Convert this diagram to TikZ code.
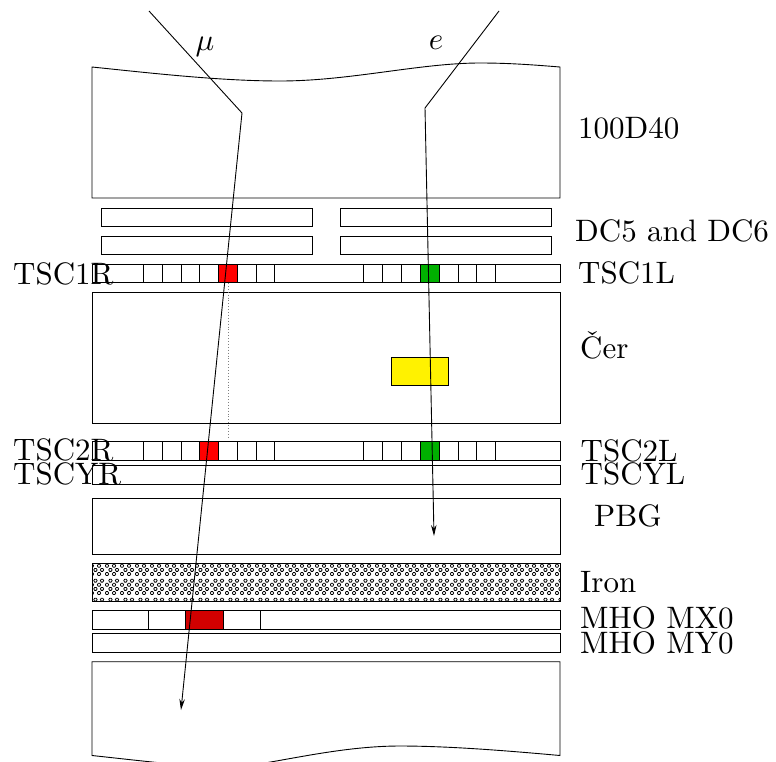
\documentclass[tikz,border=0pt]{standalone}
\usepackage{fontspec}
\setmainfont{lmroman10-regular.otf}
\usetikzlibrary{arrows.meta,patterns}
\DeclareFontShape{OML}{cmm}{m}{it}{<->cmmi10}{\skewchar\font=127}
\pgfdeclarepatternformonly{ironhex}{\pgfpoint{0pt}{0pt}}{\pgfpoint{15pt}{18.5pt}}{\pgfpoint{15pt}{18.5pt}}{%
  \pgfsetlinewidth{0.8pt}%
  \foreach \ox/\oy in {0.3/0.5,7.8/0.5,4/4.7,11/4.7,0.3/8.9,7.8/8.9,4/13.1,11/13.1}{%
  \pgfpathmoveto{\pgfpoint{\ox pt+1pt}{\oy pt}}\pgfpathlineto{\pgfpoint{\ox pt+2.6pt}{\oy pt}}\pgfpathlineto{\pgfpoint{\ox pt+3.6pt}{\oy pt+1.5pt}}\pgfpathlineto{\pgfpoint{\ox pt+2.6pt}{\oy pt+3pt}}\pgfpathlineto{\pgfpoint{\ox pt+1pt}{\oy pt+3pt}}\pgfpathlineto{\pgfpoint{\ox pt}{\oy pt+1.5pt}}\pgfpathclose}%
  \pgfusepath{stroke}}
\definecolor{tscred}{rgb}{1,0,0}
\definecolor{tscgreen}{rgb}{0,0.69,0}
\definecolor{mhored}{rgb}{0.82,0,0}
\tikzset{
  x=1pt,y=-1pt,
  box/.style={draw=black,line width=0.9pt,line join=miter},
  track/.style={draw=black,line width=0.9pt,line join=miter},
  lab/.style={anchor=base west,inner sep=0pt,font=\fontsize{31}{31}\selectfont},
  greek/.style={anchor=base,inner sep=0pt,font=\fontsize{31}{31}\selectfont},
  tip/.style={-{Stealth[length=11pt,width=5.5pt]}}
}
\begin{document}
\begin{tikzpicture}
\useasboundingbox (0,0) rectangle (776,761);
\begin{scope}
\clip (0,0) rectangle (776,761);
% magnet
\draw[box] (92,198) -- (92,67) .. controls (150,73) and (220,81) .. (280,81) .. controls (350,81) and (420,63) .. (480,63) .. controls (510,63) and (535,65) .. (560,67) -- (560,198) -- cycle;
% drift chambers
\draw[box] (101,208) rectangle (312,226);
\draw[box] (340,208) rectangle (551,226);
\draw[box] (101,236) rectangle (312,254);
\draw[box] (340,236) rectangle (551,254);
% TSC1
\draw[box] (92,264) rectangle (560,282.5);
\foreach \a/\b in {143.3/162.3,162.3/181,181/199.7,199.7/218.7,237.3/256,256/274.7,363.7/382.3,382.3/401.3,401.3/420,439/458,458/476.7,476.7/495}
  \draw[box] (\a,264) rectangle (\b,282.5);
\draw[box,fill=tscred] (218.7,264) rectangle (237.3,282.5);
\draw[box,fill=tscgreen] (420,264) rectangle (439,282.5);
% Cerenkov
\draw[box] (92,292) rectangle (560,423);
\draw[box,fill=yellow] (391.7,357.3) rectangle (448,385.7);
\draw[gray,line width=0.9pt,dotted] (228,283) -- (228,439);
% TSC2
\draw[box] (92,441.7) rectangle (560,460.3);
\foreach \a/\b in {143.3/162.3,162.3/181,181/199.7,218.7/237.3,237.3/256,256/274.7,363.7/382.3,382.3/401.3,401.3/420,439/458,458/476.7,476.7/495}
  \draw[box] (\a,441.7) rectangle (\b,460.3);
\draw[box,fill=tscred] (199.7,441.7) rectangle (218.7,460.3);
\draw[box,fill=tscgreen] (420,441.7) rectangle (439,460.3);
% TSCY
\draw[box] (92,465) rectangle (560,484);
% PBG
\draw[box] (92,498) rectangle (560,554);
% Iron
\draw[box,pattern=ironhex] (92,563.5) rectangle (560,601);
% MHO
\draw[box] (92,610.3) rectangle (560,629);
\draw[box] (148.3,610.3) rectangle (185.5,629);
\draw[box] (223.3,610.3) rectangle (260.7,629);
\draw[box,fill=mhored] (185.5,610.3) rectangle (223.3,629);
\draw[box] (92,633.5) rectangle (560,652.5);
% lower block
\draw[box] (92,661.7) -- (92,755.5) .. controls (125,759) and (175,765) .. (220,768) .. controls (260,768) and (330,746) .. (400,746) .. controls (450,746) and (510,751) .. (560,755.5) -- (560,661.7) -- cycle;
% tracks
\coordinate (mustart) at (149,11);
\coordinate (mukink) at (242,113);
\coordinate (muend) at (181,710);
\coordinate (estart) at (499,11);
\coordinate (ekink) at (425,108);
\coordinate (eend) at (434,536);
\draw[track,tip] (mustart) -- (mukink) -- (muend);
\draw[track,tip] (estart) -- (ekink) -- (eend);
\end{scope}
% labels
\node[greek] (mulab) at (205,50) {$\mu$};
\node[greek] (elab) at (436,49) {$e$};
\node[lab] (l100) at (578,138.5) {100D40};
\node[lab] (ldc) at (575,241) {DC5 and DC6};
\node[lab] (ltscl) at (578,283) {TSC1L};
\node[lab] (lcer) at (580,358) {\v{C}er};
\node[lab] (ltsctl) at (580.5,461) {TSC2L};
\node[lab] (ltscyl) at (580.5,484) {TSCYL};
\node[lab] (lpbg) at (594,526) {PBG};
\node[lab] (liron) at (580,592.5) {Iron};
\node[lab] (lmx) at (580,628) {MHO MX0};
\node[lab] (lmy) at (580,653) {MHO MY0};
\node[lab] (ltscr) at (13,284) {TSC1R};
\node[lab] (ltsctr) at (13,460) {TSC2R};
\node[lab] (ltscyr) at (13,484) {TSCYR};
\end{tikzpicture}
\end{document}
